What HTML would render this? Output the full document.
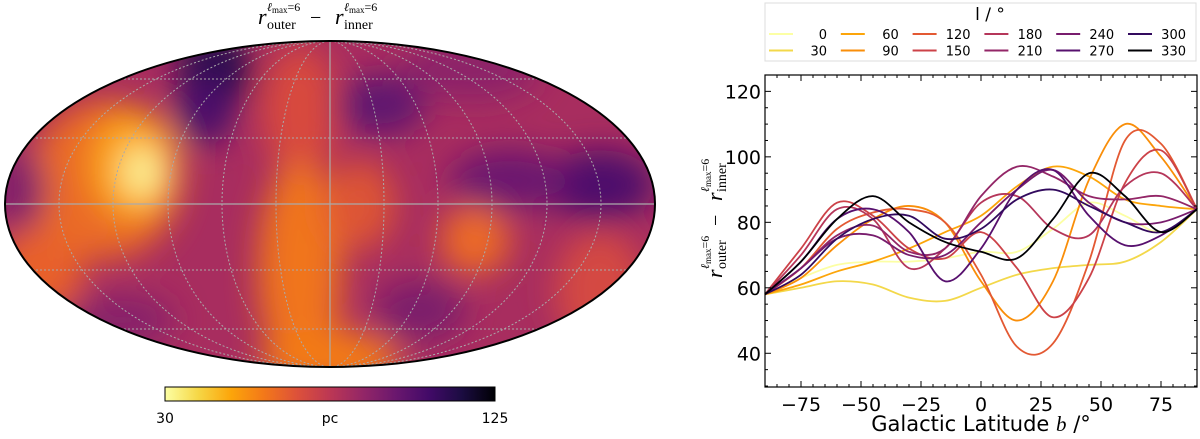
<!DOCTYPE html>
<html><head><meta charset="utf-8">
<style>
body{margin:0;width:1200px;height:439px;background:#fff;overflow:hidden;font-family:"DejaVu Sans","Liberation Sans",sans-serif;}
svg{position:absolute;left:0;top:0}
</style></head>
<body>
<svg width="1200" height="439" viewBox="0 0 1200 439">
<defs>
<clipPath id="ell"><ellipse cx="330" cy="204" rx="325" ry="163"/></clipPath>
<filter id="blur" x="-20%" y="-20%" width="140%" height="140%"><feGaussianBlur stdDeviation="16"/></filter>
<linearGradient id="cbar" x1="0" x2="1" y1="0" y2="0">
<stop offset="0" stop-color="#fcffa4"/><stop offset="0.1" stop-color="#f6d746"/><stop offset="0.2" stop-color="#fca50a"/><stop offset="0.3" stop-color="#f37819"/><stop offset="0.4" stop-color="#dd513a"/><stop offset="0.5" stop-color="#bc3754"/><stop offset="0.6" stop-color="#932667"/><stop offset="0.7" stop-color="#6a176e"/><stop offset="0.8" stop-color="#420a68"/><stop offset="0.9" stop-color="#1b0c41"/><stop offset="1" stop-color="#000004"/>
</linearGradient>
</defs>
<g>
<g clip-path="url(#ell)">
<rect x="0" y="30" width="660" height="350" fill="#a82d5f"/>
<g filter="url(#blur)">
<ellipse cx="470" cy="70" rx="70" ry="30" fill="#8c2369"/>
<ellipse cx="300" cy="110" rx="38" ry="65" fill="#d84a3e"/>
<ellipse cx="300" cy="270" rx="42" ry="110" fill="#f0741e"/>
<ellipse cx="330" cy="360" rx="70" ry="30" fill="#f37a18"/>
<ellipse cx="360" cy="205" rx="35" ry="45" fill="#dd5436"/>
<ellipse cx="600" cy="290" rx="45" ry="60" fill="#d44842"/>
<ellipse cx="40" cy="270" rx="45" ry="45" fill="#e8602a"/>
<ellipse cx="105" cy="180" rx="75" ry="80" fill="#ea6a25"/>
<ellipse cx="135" cy="165" rx="45" ry="55" fill="#fca20f"/>
<ellipse cx="142" cy="172" rx="20" ry="26" fill="#fbf59a"/>
<ellipse cx="215" cy="70" rx="38" ry="40" fill="#2a0a4e"/>
<ellipse cx="205" cy="110" rx="30" ry="35" fill="#4a0c6b"/>
<ellipse cx="600" cy="185" rx="55" ry="35" fill="#4e0f6c"/>
<ellipse cx="510" cy="180" rx="60" ry="30" fill="#6a1770"/>
<ellipse cx="380" cy="105" rx="45" ry="30" fill="#5f1470"/>
<ellipse cx="475" cy="240" rx="35" ry="35" fill="#ec6a25"/>
<ellipse cx="420" cy="310" rx="45" ry="30" fill="#7a1d6c"/>
<ellipse cx="120" cy="320" rx="55" ry="25" fill="#86216a"/>
<ellipse cx="20" cy="190" rx="25" ry="40" fill="#7d1e6c"/>
</g>
<g fill="none" stroke="#aaa" stroke-width="1" stroke-dasharray="2,2">
<ellipse cx="330" cy="204" rx="54" ry="163"/><ellipse cx="330" cy="204" rx="108" ry="163"/><ellipse cx="330" cy="204" rx="162" ry="163"/><ellipse cx="330" cy="204" rx="217" ry="163"/><ellipse cx="330" cy="204" rx="271" ry="163"/>
<line x1="0" y1="79" x2="660" y2="79"/><line x1="0" y1="138" x2="660" y2="138"/><line x1="0" y1="270" x2="660" y2="270"/><line x1="0" y1="329" x2="660" y2="329"/>
</g>
</g>
<line x1="330" y1="41" x2="330" y2="367" stroke="#aaa" stroke-width="1.2"/>
<line x1="5" y1="204" x2="655" y2="204" stroke="#aaa" stroke-width="1.2"/>
<ellipse cx="330" cy="204" rx="325" ry="163" fill="none" stroke="#000" stroke-width="2"/>
</g>
<g font-family="Liberation Serif, serif">
<text x="258" y="24" font-size="22" font-style="italic">r</text>
<text x="267" y="11" font-size="12"><tspan font-style="italic">ℓ</tspan><tspan font-size="9" dy="2">max</tspan><tspan dy="-2">=6</tspan></text>
<text x="267" y="29" font-size="14">outer</text>
<text x="310" y="24" font-size="20">−</text>
<text x="335" y="24" font-size="22" font-style="italic">r</text>
<text x="344" y="11" font-size="12"><tspan font-style="italic">ℓ</tspan><tspan font-size="9" dy="2">max</tspan><tspan dy="-2">=6</tspan></text>
<text x="344" y="29" font-size="14">inner</text>
</g>
<rect x="165" y="387" width="330" height="14" fill="url(#cbar)" stroke="#000" stroke-width="1"/>
<text x="165" y="423" text-anchor="middle" font-size="14">30</text>
<text x="330" y="423" text-anchor="middle" font-size="14">pc</text>
<text x="495" y="423" text-anchor="middle" font-size="14">125</text>

<g font-family="Liberation Serif, serif" transform="translate(722,278) rotate(-90)">
<text x="0" y="0" font-size="22" font-style="italic">r</text>
<text x="9" y="-13" font-size="12"><tspan font-style="italic">ℓ</tspan><tspan font-size="9" dy="2">max</tspan><tspan dy="-2">=6</tspan></text>
<text x="9" y="4" font-size="14">outer</text>
<text x="52" y="0" font-size="20">−</text>
<text x="77" y="0" font-size="22" font-style="italic">r</text>
<text x="86" y="-13" font-size="12"><tspan font-style="italic">ℓ</tspan><tspan font-size="9" dy="2">max</tspan><tspan dy="-2">=6</tspan></text>
<text x="86" y="4" font-size="14">inner</text>
</g>

<g id="chart"></g>
</svg>
<script>
const lats=[-90,-75,-60,-45,-30,-15,0,15,30,45,60,75,90];
const longitudes=[0,30,60,90,120,150,180,210,240,270,300,330];
const colors=["#fcffa4","#f3d84a","#fca50a","#f98e09","#e35933","#cc4248","#b5365a","#932667","#781c6d","#57106e","#320a5e","#000004"];
const s0=[58,63,67,68,68,69,71,71,78,86,82,77,84];
const s30=[58,60,62,61,57,56,60,64,66,67,68,74,84];
const s60=[58,61,65,68,72,77,82,91,97,94,87,85,84];
const s90=[58,63,73,81,85,80,62,50,62,93,110,100,84];
const s120=[58,66,78,83,84,80,64,42,43,68,105,104,84];
const s150=[58,72,86,82,72,69,77,66,51,63,92,102,84];
const s180=[58,70,84,81,66,72,86,88,78,76,91,95,84];
const s210=[58,66,76,79,71,72,88,97,94,88,87,88,84];
const s240=[58,66,75,76,70,70,80,90,96,86,80,80,84];
const s270=[58,68,81,84,77,62,72,90,96,82,73,76,84];
const s300=[58,64,75,81,82,75,78,87,90,85,80,77,84];
const s330=[58,68,81,88,80,74,71,69,81,95,88,77,84];
const series=[s0,s30,s60,s90,s120,s150,s180,s210,s240,s270,s300,s330];
const yTicks=[40,60,80,100,120];
const xTicks=[-75,-50,-25,0,25,50,75];
const L=765,R=1197,T=75,B=387,xmin=-90,xmax=90,ymin=29.7,ymax=125;
const X=v=>L+(v-xmin)/(xmax-xmin)*(R-L);
const Y=v=>B-(v-ymin)/(ymax-ymin)*(B-T);
const NS="http://www.w3.org/2000/svg";
const g=document.getElementById('chart');
function mk(t,a,p){const e=document.createElementNS(NS,t);for(const k in a)e.setAttribute(k,a[k]);(p||g).appendChild(e);return e;}
function path(xs,ys){const P=xs.map((x,i)=>[X(x),Y(ys[i])]);let d="M"+P[0][0]+","+P[0][1];
for(let i=0;i<P.length-1;i++){const p0=P[Math.max(i-1,0)],p1=P[i],p2=P[i+1],p3=P[Math.min(i+2,P.length-1)];
d+=" C"+(p1[0]+(p2[0]-p0[0])/6)+","+(p1[1]+(p2[1]-p0[1])/6)+" "+(p2[0]-(p3[0]-p1[0])/6)+","+(p2[1]-(p3[1]-p1[1])/6)+" "+p2[0]+","+p2[1];}return d;}
series.forEach((s,i)=>{const e=mk('path',{d:path(lats,s),fill:'none',stroke:colors[i],'stroke-width':1.8});

});
const frame=mk('rect',{x:L,y:T,width:R-L,height:B-T,fill:'none',stroke:'#000','stroke-width':1.2});


for(let v=30;v<=125;v+=5){const big=v%20===0;mk('line',{x1:L,x2:L+(big?6:3),y1:Y(v),y2:Y(v),stroke:'#000'});mk('line',{x1:R,x2:R-(big?6:3),y1:Y(v),y2:Y(v),stroke:'#000'});}
for(let v=-90;v<=90;v+=5){const big=v%25===0;mk('line',{x1:X(v),x2:X(v),y1:B,y2:B-(big?6:3),stroke:'#000'});mk('line',{x1:X(v),x2:X(v),y1:T,y2:T+(big?6:3),stroke:'#000'});}
yTicks.forEach(v=>{const t=mk('text',{x:L-4,y:Y(v)+7,'text-anchor':'end','font-size':19});t.textContent=v;

});
xTicks.forEach(v=>{const t=mk('text',{x:X(v),y:B+24,'text-anchor':'middle','font-size':19});t.textContent=(v<0?'\u2212'+(-v):v);

});
const xl=mk('text',{x:(L+R)/2,y:431,'text-anchor':'middle','font-size':21});
xl.innerHTML='Galactic Latitude <tspan font-family="Liberation Serif" font-style="italic">b</tspan> /°';


const lg=mk('g',{});


mk('rect',{x:765,y:3,width:431,height:58,fill:'#fff',stroke:'#ddd'},lg);
const lt=mk('text',{x:990,y:20,'text-anchor':'middle','font-size':17},lg);lt.textContent='l / °';
longitudes.forEach((l,i)=>{const c=Math.floor(i/2),r=i%2;const x0=769+c*71.8,y0=34+r*16.5;
const e=mk('g',{},lg);


mk('line',{x1:x0,x2:x0+24,y1:y0,y2:y0,stroke:colors[i],'stroke-width':2},e);
const t=mk('text',{x:x0+58,y:y0+5,'text-anchor':'end','font-size':13},e);t.textContent=l;});
</script>
</body></html>
